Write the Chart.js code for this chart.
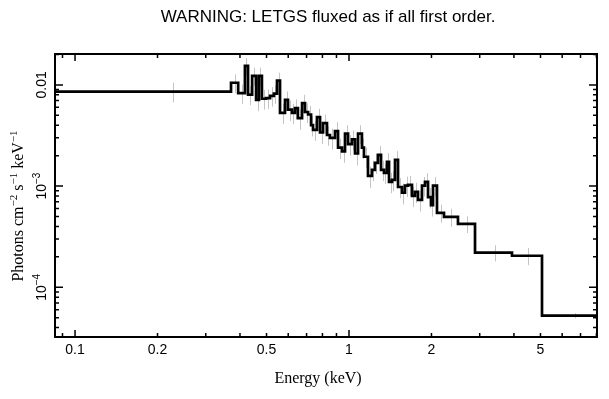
<!DOCTYPE html>
<html lang="en">
<head>
<meta charset="UTF-8">
<title>LETGS fluxed spectrum</title>
<style>
  body { margin: 0; background: #ffffff; }
  #box { width: 609px; height: 399px; }
</style>
</head>
<body>
<div id="box"><canvas id="spec" width="609" height="399"></canvas></div>
<script src="https://cdn.jsdelivr.net/npm/chart.js"></script>
<script>
// bin edges in keV (one more than the bins)
const binEdges = [0.0845, 0.371, 0.394, 0.417, 0.428, 0.443, 0.458, 0.469, 0.481, 0.498,
  0.515, 0.532, 0.546, 0.560, 0.584, 0.599, 0.619, 0.635, 0.651, 0.674,
  0.691, 0.709, 0.727, 0.739, 0.764, 0.784, 0.804, 0.831, 0.852, 0.889,
  0.912, 0.943, 0.967, 0.992, 1.025, 1.052, 1.079, 1.115, 1.134, 1.173,
  1.213, 1.244, 1.276, 1.309, 1.342, 1.376, 1.400, 1.435, 1.472, 1.510,
  1.561, 1.601, 1.642, 1.698, 1.741, 1.786, 1.847, 1.894, 1.943, 1.992,
  2.026, 2.095, 2.222, 2.499, 2.884, 3.935, 5.064, 8.3];
// photons cm^-2 s^-1 keV^-1 per bin
const binFlux = [0.0086, 0.0105, 0.0083, 0.0154, 0.0080, 0.0123, 0.0071, 0.0123, 0.0073, 0.0074,
  0.0078, 0.0082, 0.0110, 0.0053, 0.0071, 0.0057, 0.0053, 0.0059, 0.0047, 0.0066,
  0.0054, 0.0051, 0.0040, 0.0036, 0.0048, 0.0034, 0.0042, 0.0032, 0.0030, 0.0035,
  0.0024, 0.0022, 0.0033, 0.0026, 0.0029, 0.0021, 0.0033, 0.0024, 0.00195, 0.00126,
  0.00145, 0.00170, 0.00204, 0.00145, 0.00135, 0.00174, 0.00110, 0.00115, 0.00182, 0.00098,
  0.00086, 0.00101, 0.00103, 0.00080, 0.00088, 0.00073, 0.00101, 0.00110, 0.00078, 0.00065,
  0.00101, 0.000545, 0.000497, 0.000424, 0.000220, 0.000205, 0.0000525];
// 1-sigma errors per bin
const binErr = [0.0019, 0.0022, 0.0018, 0.0030, 0.0017, 0.0025, 0.0016, 0.0025, 0.0016, 0.0016,
  0.0017, 0.0017, 0.0022, 0.0012, 0.0015, 0.0013, 0.0012, 0.0013, 0.0011, 0.0014,
  0.0012, 0.0011, 0.0009, 0.0008, 0.0010, 0.0008, 0.0009, 0.0007, 0.0007, 0.0008,
  0.00055, 0.0005, 0.0007, 0.0006, 0.00065, 0.0005, 0.0007, 0.00055, 0.00045, 0.0003,
  0.00033, 0.00038, 0.00045, 0.00033, 0.0003, 0.00038, 0.00025, 0.00026, 0.0004, 0.00022,
  0.0002, 0.00023, 0.00023, 0.00018, 0.0002, 0.00017, 0.00022, 0.00024, 0.00018, 0.00015,
  0.00022, 0.00011, 0.0001, 0.00008, 0.00004, 0.00004, 0.000003];

const xRange = [0.0845, 8.04];
const yRange = [3.23e-5, 0.0202];
const xTickLabels = [0.1, 0.2, 0.5, 1, 2, 5];
const yTickLabels = [[0.01, '0.01', ''], [1e-3, '10', '\u22123'], [1e-4, '10', '\u22124']];
const titleText = 'WARNING: LETGS fluxed as if all first order.';
const xTitle = 'Energy (keV)';
const yTitle = [['Photons cm', ''], ['\u22122', 'sup'], [' s', ''], ['\u22121', 'sup'], [' keV', ''], ['\u22121', 'sup']];

const SANS = '"Liberation Sans", Arial, sans-serif';
const SERIF = '"Liberation Serif", "Times New Roman", serif';

const stepPoints = binEdges.map((e, i) => ({ x: e, y: binFlux[Math.min(i, binFlux.length - 1)] }));

// log minor positions 1..9 x decade inside a range
function logTicks(lo, hi) {
    const out = [];
    for (let d = Math.floor(Math.log10(lo)); d <= Math.ceil(Math.log10(hi)); d++) {
        for (let k = 1; k <= 9; k++) {
            const v = k * Math.pow(10, d);
            if (v >= lo && v <= hi) out.push({ v: v, major: k === 1 });
        }
    }
    return out;
}

function richWidth(ctx, parts, size, family) {
    let w = 0;
    parts.forEach(p => {
        ctx.font = (p[1] === 'sup' ? Math.round(size * 0.7) : size) + 'px ' + family;
        w += ctx.measureText(p[0]).width;
    });
    return w;
}

function drawRich(ctx, parts, x, y, size, family) {
    let cx = x - richWidth(ctx, parts, size, family) / 2;
    parts.forEach(p => {
        const sup = p[1] === 'sup';
        ctx.font = (sup ? Math.round(size * 0.7) : size) + 'px ' + family;
        ctx.fillText(p[0], cx, sup ? y - size * 0.4 : y);
        cx += ctx.measureText(p[0]).width;
    });
}

const errorBars = {
    id: 'errorBars',
    beforeDatasetsDraw(chart) {
        const ctx = chart.ctx, xs = chart.scales.x, ys = chart.scales.y, a = chart.chartArea;
        ctx.save();
        ctx.beginPath();
        ctx.rect(a.left, a.top, a.right - a.left, a.bottom - a.top);
        ctx.clip();
        ctx.strokeStyle = '#c4c4c4';
        ctx.lineWidth = 1;
        for (let i = 0; i < binFlux.length; i++) {
            const px = Math.round(xs.getPixelForValue((binEdges[i] + binEdges[i + 1]) / 2)) + 0.5;
            const lo = Math.max(binFlux[i] - binErr[i], yRange[0] * 0.5);
            ctx.beginPath();
            ctx.moveTo(px, ys.getPixelForValue(binFlux[i] + binErr[i]));
            ctx.lineTo(px, ys.getPixelForValue(lo));
            ctx.stroke();
        }
        ctx.restore();
    }
};

const frameAndText = {
    id: 'frameAndText',
    afterDraw(chart) {
        const ctx = chart.ctx, xs = chart.scales.x, ys = chart.scales.y, a = chart.chartArea;
        ctx.save();
        ctx.strokeStyle = '#000';
        ctx.fillStyle = '#000';
        // tick marks pointing inward on all four sides
        ctx.lineWidth = 1.5;
        logTicks(xRange[0], xRange[1]).forEach(t => {
            const px = xs.getPixelForValue(t.v), len = t.major ? 7 : 4;
            ctx.beginPath();
            ctx.moveTo(px, a.bottom); ctx.lineTo(px, a.bottom - len);
            ctx.moveTo(px, a.top); ctx.lineTo(px, a.top + len);
            ctx.stroke();
        });
        logTicks(yRange[0], yRange[1]).forEach(t => {
            const py = ys.getPixelForValue(t.v), len = t.major ? 8 : 4;
            ctx.beginPath();
            ctx.moveTo(a.left, py); ctx.lineTo(a.left + len, py);
            ctx.moveTo(a.right, py); ctx.lineTo(a.right - len, py);
            ctx.stroke();
        });
        ctx.lineWidth = 2;
        ctx.strokeRect(a.left, a.top, a.right - a.left, a.bottom - a.top);

        // x tick labels
        ctx.font = '14px ' + SANS;
        ctx.textAlign = 'center';
        ctx.textBaseline = 'middle';
        xTickLabels.forEach(v => ctx.fillText(String(v), xs.getPixelForValue(v), a.bottom + 13));

        // y tick labels, rotated
        ctx.textAlign = 'left';
        ctx.textBaseline = 'alphabetic';
        yTickLabels.forEach(t => {
            ctx.save();
            ctx.translate(a.left - 9, ys.getPixelForValue(t[0]));
            ctx.rotate(-Math.PI / 2);
            const parts = t[2] ? [[t[1], ''], [t[2], 'sup']] : [[t[1], '']];
            drawRich(ctx, parts, 0, 0, 14, SANS);
            ctx.restore();
        });

        // title
        ctx.font = '17px ' + SANS;
        ctx.textAlign = 'center';
        ctx.textBaseline = 'middle';
        ctx.fillText(titleText, 328, 17);

        // axis titles
        ctx.font = '16px ' + SERIF;
        ctx.fillText(xTitle, (a.left + a.right) / 2 - 8, 379);
        ctx.textAlign = 'left';
        ctx.textBaseline = 'alphabetic';
        ctx.save();
        ctx.translate(23, 206);
        ctx.rotate(-Math.PI / 2);
        drawRich(ctx, yTitle, 0, 0, 16, SERIF);
        ctx.restore();
        ctx.restore();
    }
};

new Chart(document.getElementById('spec'), {
    type: 'line',
    data: {
        datasets: [{
            data: stepPoints,
            stepped: 'before',
            borderColor: '#000000',
            borderWidth: 2.7,
            pointRadius: 0,
            fill: false,
            clip: 0
        }]
    },
    options: {
        responsive: false,
        animation: false,
        devicePixelRatio: 1,
        layout: { padding: { top: 54, right: 12, left: 0, bottom: 0 } },
        plugins: { legend: { display: false }, tooltip: { enabled: false }, title: { display: false } },
        scales: {
            x: {
                type: 'logarithmic', min: xRange[0], max: xRange[1],
                grid: { display: false }, border: { display: false }, ticks: { display: false },
                afterFit: s => { s.height = 62; }
            },
            y: {
                type: 'logarithmic', min: yRange[0], max: yRange[1],
                grid: { display: false }, border: { display: false }, ticks: { display: false },
                afterFit: s => { s.width = 55; }
            }
        }
    },
    plugins: [errorBars, frameAndText]
});
</script>
</body>
</html>
